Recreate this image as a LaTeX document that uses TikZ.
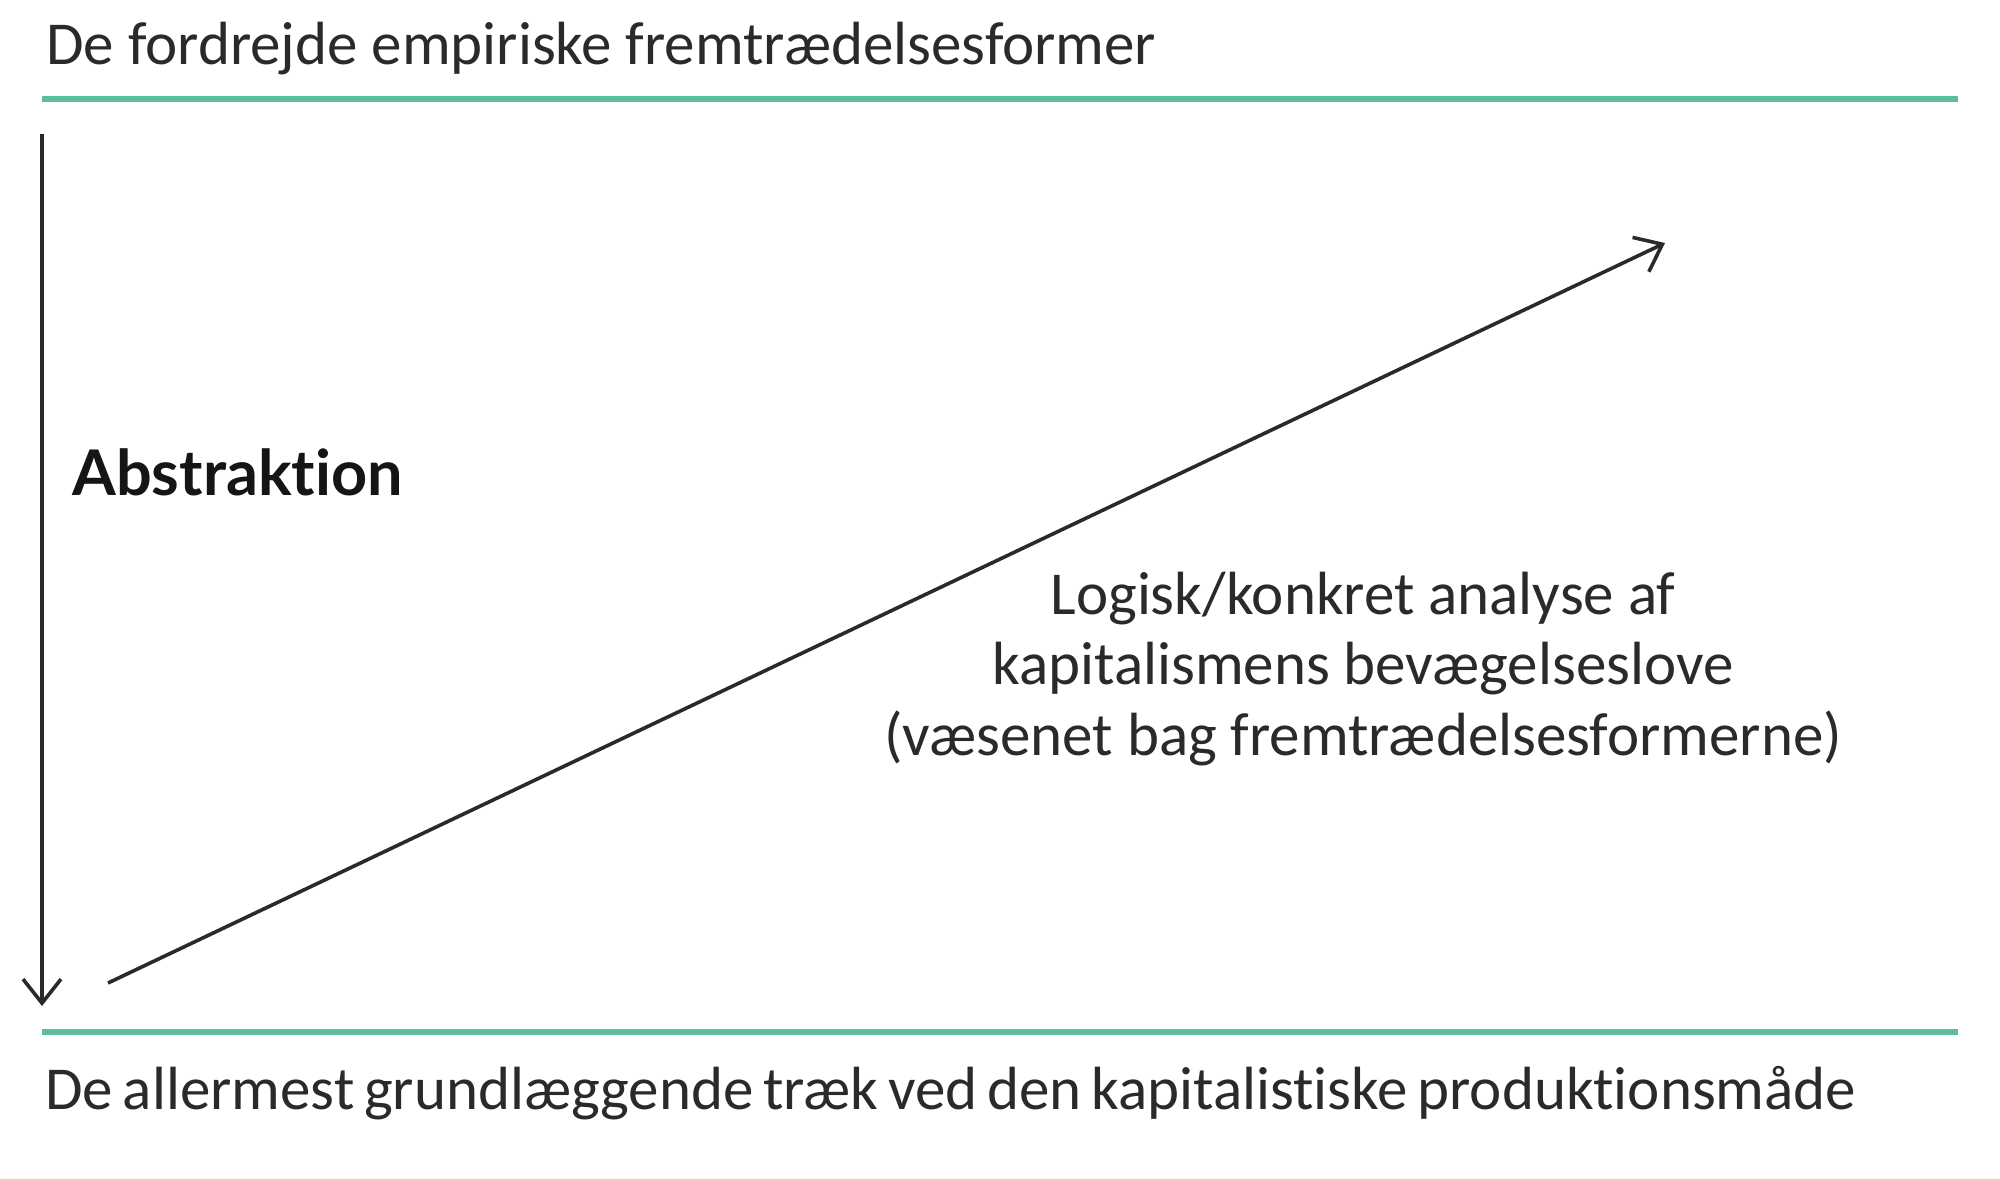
\documentclass[tikz,border=0pt]{standalone}
\usepackage{fontspec}
\setmainfont{Carlito}[Ligatures=NoCommon]
\newfontfamily\tightfam{Carlito}[Ligatures=NoCommon,WordSpace=0.7]
\newfontfamily\boldfam{Lato}[Ligatures=NoCommon]
\usetikzlibrary{arrows.meta}
\definecolor{rule}{HTML}{5DBE9E}
\definecolor{ink}{HTML}{2A2A2A}
\definecolor{boldink}{HTML}{151515}
\begin{document}
\begin{tikzpicture}[x=0.5pt,y=-0.5pt,
  txt/.style={inner sep=0pt,text=ink,font=\fontsize{30.5}{36}\selectfont},
  greenrule/.style={draw=rule,line width=3.4pt},
  arr/.style={draw=ink,line width=1.8pt,-{Straight Barb[length=12pt,width=19pt,line width=1.8pt]}}]
\useasboundingbox (0,0) rectangle (2000,1178);
\node[txt,anchor=base west] (top) at (46,64) {De fordrejde empiriske fremtrædelsesformer};
\coordinate (tl) at (42,99); \coordinate (tr) at (1958,99);
\draw[greenrule] (tl) -- (tr);
\coordinate (bl) at (42,1032); \coordinate (br) at (1958,1032);
\draw[greenrule] (bl) -- (br);
\node[txt,anchor=base west,font=\fontsize{30.5}{36}\tightfam] (bot) at (45,1109) {De allermest grundlæggende træk ved den kapitalistiske produktionsmåde};
\coordinate (va) at (42,134); \coordinate (vb) at (42,1006);
\draw[arr] (va) -- (vb);
\node[txt,anchor=base west,text=boldink,font=\fontsize{31.5}{36}\boldfam\bfseries] (abs) at (72,495) {Abstraktion};
\coordinate (da) at (108,983); \coordinate (db) at (1665,243);
\draw[arr] (da) -- (db);
\node[txt,anchor=base] (m1) at (1363,614) {Logisk/konkret analyse af};
\node[txt,anchor=base] (m2) at (1363,684) {kapitalismens bevægelseslove};
\node[txt,anchor=base] (m3) at (1363,755) {(væsenet bag fremtrædelsesformerne)};
\end{tikzpicture}
\end{document}
